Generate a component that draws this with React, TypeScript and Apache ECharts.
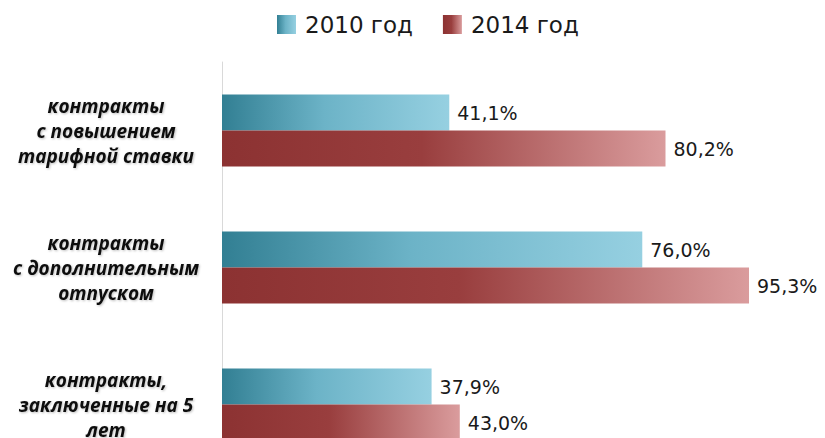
import React, { useEffect, useRef } from "react";
import * as echarts from "echarts";

const categories = [
  "контракты\nс повышением\nтарифной ставки",
  "контракты\nс дополнительным\nотпуском",
  "контракты,\nзаключенные на 5\nлет",
];
const seriesNames = ["2010 год", "2014 год"];
const values2010 = [41.1, 76.0, 37.9];
const values2014 = [80.2, 95.3, 43.0];

export default function App() {
  const ref = useRef<HTMLDivElement>(null);
  useEffect(() => {
    document.body.style.margin = "0";
    const chart = echarts.init(ref.current!, null, { renderer: "svg" });
    const blue = new echarts.graphic.LinearGradient(0, 0, 1, 0, [
      { offset: 0, color: "#327f93" },
      { offset: 0.45, color: "#6cb3c7" },
      { offset: 1, color: "#96d0e1" },
    ]);
    const red = new echarts.graphic.LinearGradient(0, 0, 1, 0, [
      { offset: 0, color: "#8c3232" },
      { offset: 0.45, color: "#993e3e" },
      { offset: 1, color: "#da9c9d" },
    ]);
    const fmt = (p: any) => Number(p.value).toFixed(1).replace(".", ",") + "%";
    const labelCfg = {
      show: true,
      position: "right",
      distance: 8,
      formatter: fmt,
      fontFamily: "DejaVu Sans",
      fontSize: 19,
      color: "#1a1a1a",
    };
    chart.setOption({
      animation: false,
      backgroundColor: "#ffffff",
      legend: {
        data: seriesNames,
        left: 272,
        top: 8,
        icon: "rect",
        itemWidth: 19,
        itemHeight: 19,
        itemGap: 30,
        textStyle: {
          fontFamily: "DejaVu Sans",
          fontSize: 23,
          color: "#1a1a1a",
          padding: [0, 0, 0, 4],
        },
      },
      grid: {
        left: 222,
        right: 50,
        top: 62,
        height: 411,
        outerBoundsMode: "none",
        containLabel: false,
      },
      xAxis: {
        type: "value",
        min: 0,
        max: 100,
        show: false,
      },
      yAxis: {
        type: "category",
        data: categories,
        inverse: true,
        axisLine: { show: true, lineStyle: { color: "#d9d9d9", width: 1 } },
        axisTick: { show: false },
        splitLine: { show: false },
        axisLabel: {
          align: "center",
          margin: 116,
          fontFamily: "Open Sans",
          fontWeight: "bold",
          fontStyle: "italic",
          fontSize: 19,
          lineHeight: 25,
          color: "#111111",
          textShadowColor: "rgba(0,0,0,0.25)",
          textShadowBlur: 2,
          textShadowOffsetX: 1,
          textShadowOffsetY: 1,
        },
      },
      series: [
        {
          name: seriesNames[0],
          type: "bar",
          data: values2010,
          barWidth: 36,
          barGap: "0%",
          itemStyle: { color: blue },
          label: labelCfg,
        },
        {
          name: seriesNames[1],
          type: "bar",
          data: values2014,
          barWidth: 36,
          barGap: "0%",
          itemStyle: { color: red },
          label: labelCfg,
        },
      ],
    });
    return () => chart.dispose();
  }, []);
  return <div ref={ref} style={{ width: 825, height: 438 }} />;
}
